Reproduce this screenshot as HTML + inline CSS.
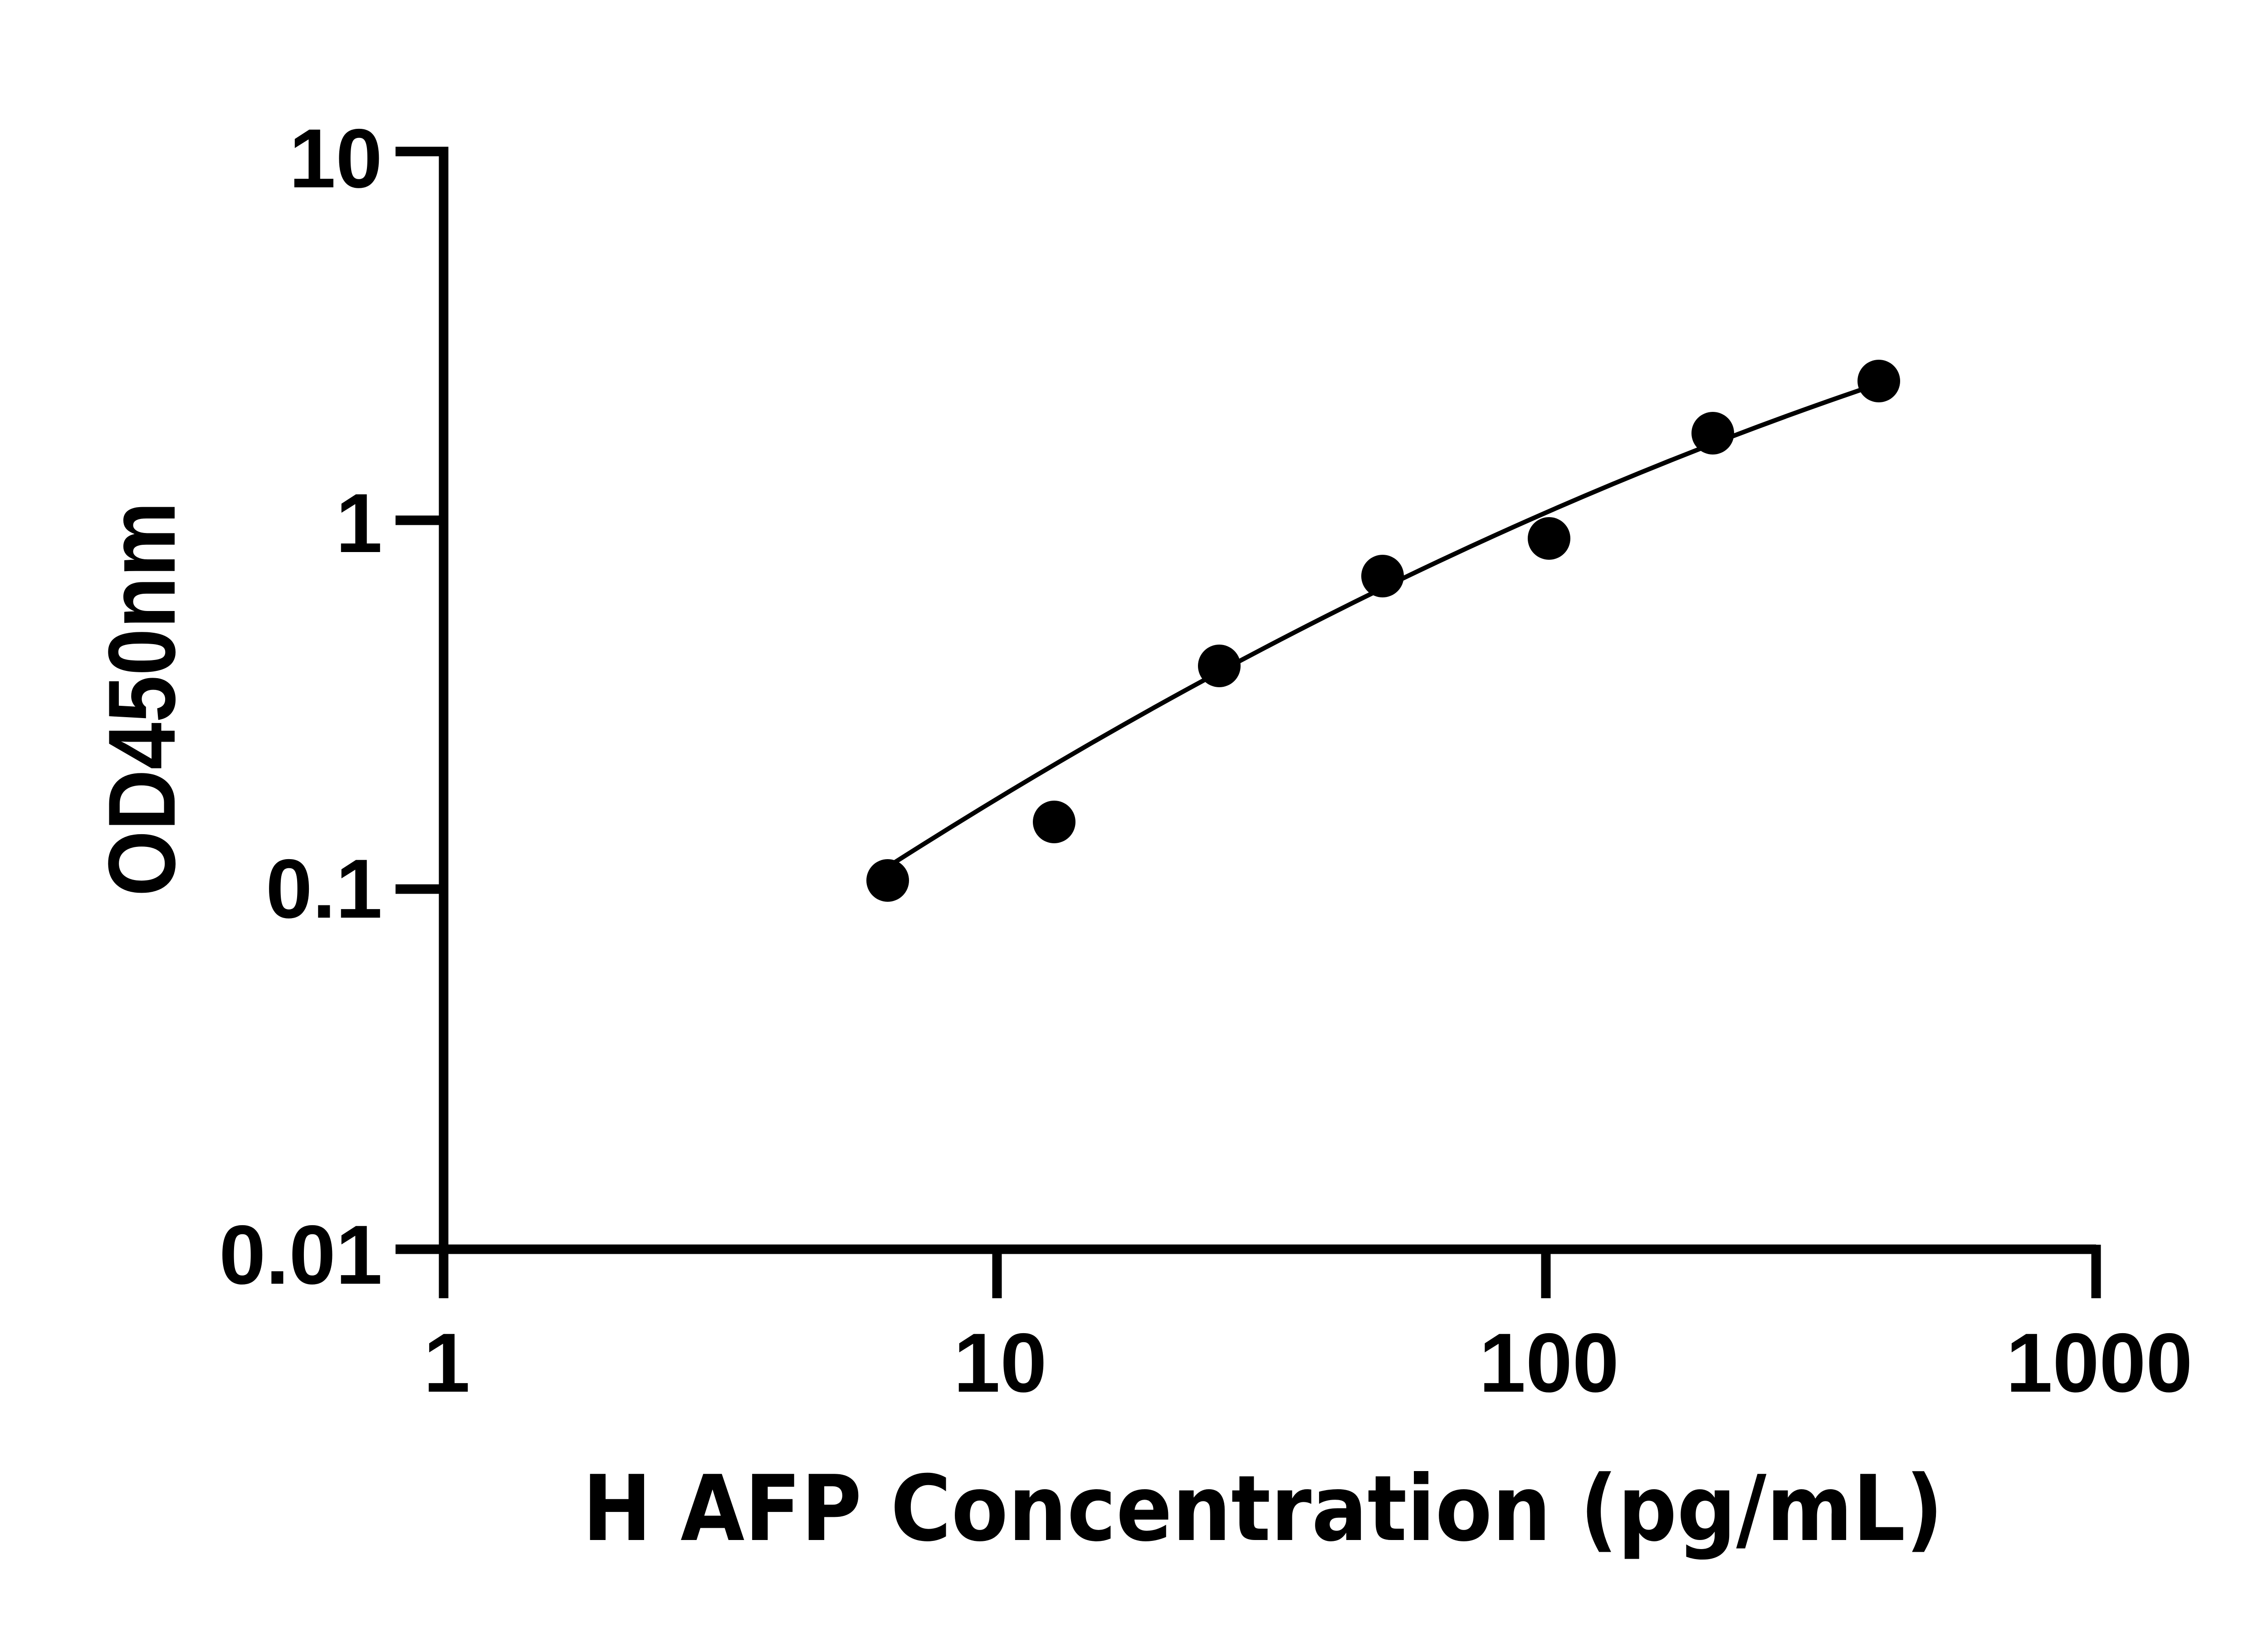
<!DOCTYPE html>
<html><head><meta charset="utf-8"><style>html,body{margin:0;padding:0;background:#fff}svg{display:block}
.t{font-family:'Liberation Sans','Arial',sans-serif;font-weight:bold;font-size:185px}</style></head>
<body>
<svg width="5130" height="3600" viewBox="0 0 5130 3600" xmlns="http://www.w3.org/2000/svg">
<g stroke="#000" stroke-width="21" fill="none" stroke-linecap="butt">
<polyline points="872,334 978,334 978,2754"/>
<line x1="872" y1="1147" x2="978" y2="1147"/>
<line x1="872" y1="1960" x2="978" y2="1960"/>
<line x1="872" y1="2754" x2="4621" y2="2754"/>
<line x1="978" y1="2744" x2="978" y2="2862"/>
<line x1="2198" y1="2744" x2="2198" y2="2862"/>
<line x1="3408" y1="2744" x2="3408" y2="2862"/>
<line x1="4621" y1="2744" x2="4621" y2="2862"/>
</g>
<g class="t" fill="#000">
<text x="843" y="413" text-anchor="end">10</text>
<text x="843" y="1217" text-anchor="end">1</text>
<text x="843" y="2023" text-anchor="end">0.1</text>
<text x="843" y="2830" text-anchor="end">0.01</text>
<text x="985" y="3068" text-anchor="middle">1</text>
<text x="2205" y="3068" text-anchor="middle">10</text>
<text x="3415" y="3068" text-anchor="middle">100</text>
<text x="4628" y="3068" text-anchor="middle">1000</text>
</g>
<text transform="translate(385,1541) rotate(-90)" text-anchor="middle" font-family="'Liberation Sans','Arial',sans-serif" font-weight="bold" font-size="210" textLength="870" lengthAdjust="spacingAndGlyphs">OD450nm</text>
<text x="1284" y="3395" font-family="'DejaVu Sans',sans-serif" font-weight="bold" font-size="200" textLength="3000" lengthAdjust="spacingAndGlyphs">H AFP Concentration (pg/mL)</text>
<path d="M1957,1911 Q3049.5,1213.5 4142,846" stroke="#000" stroke-width="10" fill="none"/>
<g fill="#000">
<circle cx="1957" cy="1941" r="47"/>
<circle cx="2324" cy="1812" r="47"/>
<circle cx="2688" cy="1468" r="47"/>
<circle cx="3048" cy="1270" r="47"/>
<circle cx="3415" cy="1187" r="47"/>
<circle cx="3776" cy="955" r="47"/>
<circle cx="4142" cy="840" r="47"/>
</g>
</svg>
</body></html>
